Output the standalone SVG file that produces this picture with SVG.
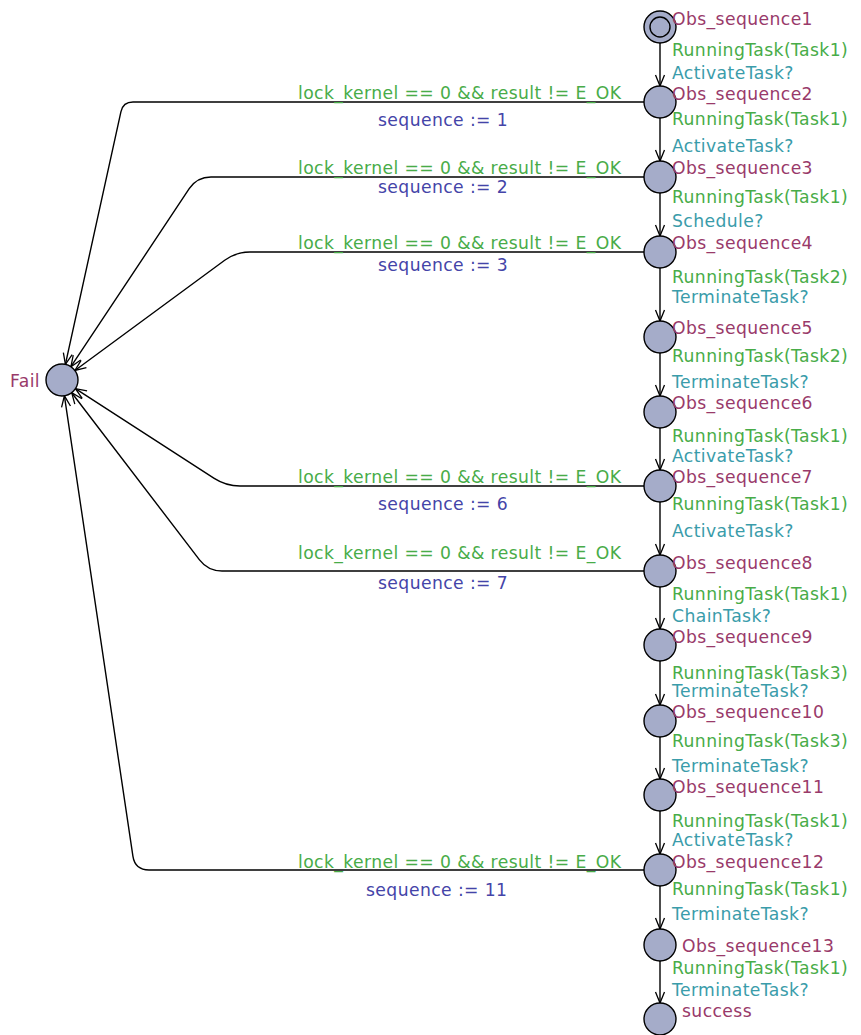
<svg xmlns="http://www.w3.org/2000/svg" width="861" height="1035" viewBox="0 0 861 1035">
<style>
text{font-family:"DejaVu Sans","Liberation Sans",sans-serif;font-size:17.2px;letter-spacing:0.4px}
.n{fill:#993a6a}
.g{fill:#48ac48}
.s{fill:#3a9caa}
.u{fill:#4444a8}
.loc{fill:#a5acc9;stroke:#000;stroke-width:1.4}
.e{fill:none;stroke:#000;stroke-width:1.4}
</style>
<defs>
<marker id="a" markerUnits="userSpaceOnUse" markerWidth="14" markerHeight="12" refX="12" refY="6" orient="auto" viewBox="0 0 14 12">
<path d="M1,1.5 L12,6 L1,10.5" fill="none" stroke="#000" stroke-width="1.3"/>
</marker>
</defs>
<g id="connectors">
<path class="e" marker-end="url(#a)" d="M660,43 V86"/>
<path class="e" marker-end="url(#a)" d="M660,118 V161"/>
<path class="e" marker-end="url(#a)" d="M660,193 V236"/>
<path class="e" marker-end="url(#a)" d="M660,268 V321"/>
<path class="e" marker-end="url(#a)" d="M660,353 V396"/>
<path class="e" marker-end="url(#a)" d="M660,428 V470"/>
<path class="e" marker-end="url(#a)" d="M660,502 V555"/>
<path class="e" marker-end="url(#a)" d="M660,587 V629"/>
<path class="e" marker-end="url(#a)" d="M660,661 V705"/>
<path class="e" marker-end="url(#a)" d="M660,737 V779"/>
<path class="e" marker-end="url(#a)" d="M660,811 V854"/>
<path class="e" marker-end="url(#a)" d="M660,886 V929"/>
<path class="e" marker-end="url(#a)" d="M660,961 V1003"/>
<path class="e" marker-end="url(#a)" d="M644,102 H133 Q123,102 120.9,111.8 L65.4,364.4"/>
<path class="e" marker-end="url(#a)" d="M644,177 H211 Q197,177 189.2,188.7 L70.9,366.7"/>
<path class="e" marker-end="url(#a)" d="M644,252 H250 Q236,252 224.7,260.3 L74.9,370.5"/>
<path class="e" marker-end="url(#a)" d="M644,486 H240 Q226,486 214.2,478.4 L75.4,388.7"/>
<path class="e" marker-end="url(#a)" d="M644,571 H222 Q208,571 199.5,559.9 L71.7,392.7"/>
<path class="e" marker-end="url(#a)" d="M644,870 H149 Q135,870 132.9,856.2 L64.4,395.8"/>
<text class="g" x="672" y="56">RunningTask(Task1)</text>
<text class="s" x="672" y="79">ActivateTask?</text>
<text class="g" x="672" y="125">RunningTask(Task1)</text>
<text class="s" x="672" y="152">ActivateTask?</text>
<text class="g" x="672" y="203">RunningTask(Task1)</text>
<text class="s" x="672" y="227">Schedule?</text>
<text class="g" x="672" y="283">RunningTask(Task2)</text>
<text class="s" x="672" y="303">TerminateTask?</text>
<text class="g" x="672" y="362">RunningTask(Task2)</text>
<text class="s" x="672" y="388">TerminateTask?</text>
<text class="g" x="672" y="442">RunningTask(Task1)</text>
<text class="s" x="672" y="462">ActivateTask?</text>
<text class="g" x="672" y="510">RunningTask(Task1)</text>
<text class="s" x="672" y="537">ActivateTask?</text>
<text class="g" x="672" y="600">RunningTask(Task1)</text>
<text class="s" x="672" y="622">ChainTask?</text>
<text class="g" x="672" y="679">RunningTask(Task3)</text>
<text class="s" x="672" y="697">TerminateTask?</text>
<text class="g" x="672" y="747">RunningTask(Task3)</text>
<text class="s" x="672" y="772">TerminateTask?</text>
<text class="g" x="672" y="827">RunningTask(Task1)</text>
<text class="s" x="672" y="846">ActivateTask?</text>
<text class="g" x="672" y="895">RunningTask(Task1)</text>
<text class="s" x="672" y="920">TerminateTask?</text>
<text class="g" x="672" y="974">RunningTask(Task1)</text>
<text class="s" x="672" y="996">TerminateTask?</text>
<text class="g" x="298" y="99">lock_kernel == 0 &amp;&amp; result != E_OK</text>
<text class="u" x="378" y="126">sequence := 1</text>
<text class="g" x="298" y="174">lock_kernel == 0 &amp;&amp; result != E_OK</text>
<text class="u" x="378" y="193">sequence := 2</text>
<text class="g" x="298" y="249">lock_kernel == 0 &amp;&amp; result != E_OK</text>
<text class="u" x="378" y="271">sequence := 3</text>
<text class="g" x="298" y="483">lock_kernel == 0 &amp;&amp; result != E_OK</text>
<text class="u" x="378" y="510">sequence := 6</text>
<text class="g" x="298" y="559">lock_kernel == 0 &amp;&amp; result != E_OK</text>
<text class="u" x="378" y="589">sequence := 7</text>
<text class="g" x="298" y="868">lock_kernel == 0 &amp;&amp; result != E_OK</text>
<text class="u" x="366" y="896">sequence := 11</text>
</g>
<g id="Fail"><circle class="loc" cx="62" cy="380" r="16"/><text class="n" x="10" y="387">Fail</text></g>
<g id="Obs_sequence1"><circle class="loc" cx="660" cy="27" r="16"/><circle class="loc" cx="660" cy="27" r="10"/><text class="n" x="672" y="25">Obs_sequence1</text></g>
<g id="Obs_sequence2"><circle class="loc" cx="660" cy="102" r="16"/><text class="n" x="672" y="100">Obs_sequence2</text></g>
<g id="Obs_sequence3"><circle class="loc" cx="660" cy="177" r="16"/><text class="n" x="672" y="174">Obs_sequence3</text></g>
<g id="Obs_sequence4"><circle class="loc" cx="660" cy="252" r="16"/><text class="n" x="672" y="249">Obs_sequence4</text></g>
<g id="Obs_sequence5"><circle class="loc" cx="660" cy="337" r="16"/><text class="n" x="672" y="334">Obs_sequence5</text></g>
<g id="Obs_sequence6"><circle class="loc" cx="660" cy="412" r="16"/><text class="n" x="672" y="409">Obs_sequence6</text></g>
<g id="Obs_sequence7"><circle class="loc" cx="660" cy="486" r="16"/><text class="n" x="672" y="483">Obs_sequence7</text></g>
<g id="Obs_sequence8"><circle class="loc" cx="660" cy="571" r="16"/><text class="n" x="672" y="569">Obs_sequence8</text></g>
<g id="Obs_sequence9"><circle class="loc" cx="660" cy="645" r="16"/><text class="n" x="672" y="643">Obs_sequence9</text></g>
<g id="Obs_sequence10"><circle class="loc" cx="660" cy="721" r="16"/><text class="n" x="672" y="718">Obs_sequence10</text></g>
<g id="Obs_sequence11"><circle class="loc" cx="660" cy="795" r="16"/><text class="n" x="672" y="793">Obs_sequence11</text></g>
<g id="Obs_sequence12"><circle class="loc" cx="660" cy="870" r="16"/><text class="n" x="672" y="868">Obs_sequence12</text></g>
<g id="Obs_sequence13"><circle class="loc" cx="660" cy="945" r="16"/><text class="n" x="682" y="952">Obs_sequence13</text></g>
<g id="success"><circle class="loc" cx="660" cy="1019" r="16"/><text class="n" x="682" y="1017">success</text></g>
</svg>
